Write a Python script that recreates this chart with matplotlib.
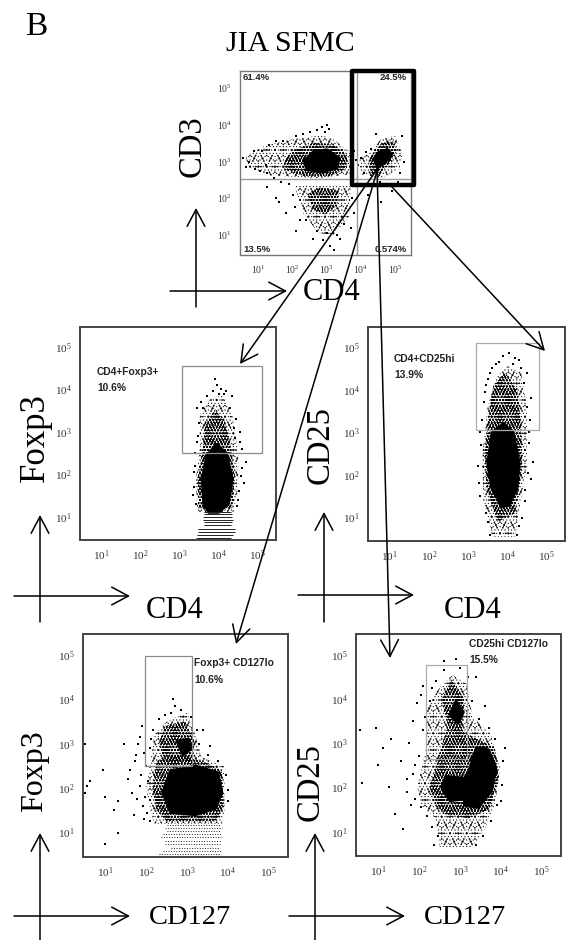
import numpy as np
import matplotlib
matplotlib.use("Agg")
import matplotlib.pyplot as plt
from matplotlib.patches import Polygon, Rectangle

plt.rcParams['font.family'] = ['Liberation Serif', 'DejaVu Serif']
plt.rcParams['mathtext.fontset'] = 'custom'
plt.rcParams['mathtext.rm'] = 'Liberation Sans'
plt.rcParams['hatch.linewidth'] = 0.35

W = 568
H = 940

# all cloud outlines are in decades (log10 of the fluorescence)
tick_decades = [1, 2, 3, 4, 5]
axis_low = 0.45
axis_high = 5.47

# top panel, CD4 / CD3
top_sparse = [
    [(0.62, 3.15), (1.16, 3.42), (1.94, 3.6), (2.85, 3.72), (3.2, 3.6), (3.69, 3.25), (3.69, 2.65), (2.72, 2.55), (1.35, 2.62), (0.68, 2.85)],
    [(3.95, 3.05), (4.25, 3.25), (4.6, 3.62), (5.0, 3.7), (5.22, 3.2), (5.12, 2.8), (4.6, 2.55), (4.0, 2.65)],
    [(2.05, 2.35), (3.7, 2.35), (3.65, 1.5), (3.2, 1.0), (2.75, 1.05), (2.3, 1.6)],
]
top_mid = [
    [(1.74, 3.01), (2.03, 3.32), (2.62, 3.51), (3.2, 3.46), (3.59, 3.19), (3.59, 2.82), (3.11, 2.6), (2.33, 2.6), (1.74, 2.78)],
    [(4.22, 2.9), (4.33, 3.2), (4.6, 3.5), (4.95, 3.55), (5.05, 3.3), (4.85, 2.95), (4.55, 2.65), (4.3, 2.65)],
    [(2.43, 2.1), (2.8, 2.3), (3.35, 2.2), (3.3, 1.8), (2.95, 1.55), (2.6, 1.7)],
]
top_core = [
    [(2.33, 3.01), (2.62, 3.28), (3.01, 3.32), (3.35, 3.1), (3.3, 2.82), (2.81, 2.71), (2.42, 2.78)],
    [(4.37, 3.07), (4.52, 3.25), (4.78, 3.33), (4.9, 3.2), (4.72, 2.98), (4.5, 2.85)],
]
top_x = [0.55, 0.7, 0.62, 0.9, 0.85, 1.1, 1.05, 1.3, 1.25, 1.5, 1.45, 1.2, 1.7, 1.65, 2.1, 2.3, 1.9, 2.5, 2.7, 3.0, 3.05, 2.95, 2.85, 2.7, 3.8, 3.78, 3.9, 3.85, 4.1, 4.0, 4.15, 4.3, 5.2, 5.25, 5.1, 5.15, 4.45, 4.55, 1.5, 1.8, 2.1, 2.6, 3.1, 3.5, 4.2, 4.6, 4.9, 2.4, 3.3, 1.25, 1.6, 2.05, 3.2, 3.75, 3.8, 3.72, 2.0, 2.2, 2.9, 3.0, 3.4]
top_y = [3.1, 3.0, 2.85, 2.8, 3.3, 3.3, 2.75, 3.45, 2.7, 3.55, 2.55, 2.9, 3.55, 2.45, 3.7, 3.75, 2.4, 3.8, 3.85, 4.0, 3.9, 3.8, 3.95, 1.1, 3.3, 2.8, 2.9, 3.05, 2.7, 3.1, 3.25, 3.35, 3.7, 3.0, 2.45, 2.7, 3.75, 2.45, 2.0, 1.6, 1.1, 0.9, 0.7, 1.3, 2.1, 1.9, 2.2, 1.4, 1.0, 2.3, 1.9, 1.75, 0.6, 2.0, 1.6, 1.2, 2.1, 1.4, 0.85, 1.05, 0.9]

# CD4 / Foxp3
foxp3_cd4_sparse = [[(3.45, 1.1), (3.42, 1.9), (3.52, 2.6), (3.52, 3.4), (3.8, 3.8), (4.1, 3.85), (4.35, 3.4), (4.5, 2.5), (4.5, 1.7), (4.38, 1.1)]]
foxp3_cd4_mid = [[(3.48, 1.2), (3.46, 1.9), (3.6, 2.6), (3.65, 3.2), (3.9, 3.5), (4.15, 3.3), (4.3, 2.7), (4.42, 2.0), (4.35, 1.2)]]
foxp3_cd4_core = [[(3.62, 1.3), (3.58, 1.9), (3.7, 2.45), (3.95, 2.7), (4.2, 2.5), (4.35, 1.9), (4.25, 1.3), (4.0, 1.1), (3.75, 1.1)]]
foxp3_cd4_levels = [1.12, 1.06, 0.99, 0.93, 0.87, 0.8, 0.72, 0.64, 0.56, 0.49]
foxp3_cd4_from = [3.62, 3.62, 3.6, 3.6, 3.62, 3.62, 3.48, 3.46, 3.44, 3.42]
foxp3_cd4_to = [4.32, 4.34, 4.34, 4.36, 4.34, 4.32, 4.42, 4.42, 4.36, 4.32]
foxp3_cd4_x = [3.9, 3.95, 4.0, 4.2, 4.35, 4.45, 4.55, 4.6, 4.7, 3.45, 3.55, 3.4, 4.65, 4.5, 3.42, 3.38, 3.36, 3.4, 3.47, 3.5, 3.6, 3.7, 3.85, 4.05, 4.15, 4.3, 4.4, 4.42, 4.55, 4.6, 4.58, 4.52, 4.48, 3.35, 3.44]
foxp3_cd4_y = [4.25, 4.1, 3.9, 3.95, 3.85, 3.3, 3.0, 2.6, 2.3, 3.55, 3.7, 2.2, 1.8, 1.4, 1.3, 1.7, 2.05, 2.5, 2.9, 3.2, 3.55, 3.85, 3.95, 4.0, 3.9, 3.55, 3.1, 2.85, 2.75, 2.15, 1.95, 1.6, 1.25, 1.5, 2.75]

# CD4 / CD25
cd25_cd4_sparse = [[(3.62, 0.55), (3.4, 1.4), (3.35, 2.4), (3.5, 3.6), (3.72, 4.3), (4.0, 4.55), (4.35, 4.4), (4.5, 3.6), (4.5, 2.2), (4.3, 1.2), (4.2, 0.55)]]
cd25_cd4_mid = [[(3.75, 0.9), (3.47, 1.7), (3.42, 2.5), (3.52, 3.4), (3.65, 4.1), (3.95, 4.4), (4.25, 4.0), (4.35, 3.2), (4.38, 2.2), (4.2, 1.1)]]
cd25_cd4_core = [[(3.85, 1.25), (3.6, 1.7), (3.5, 2.3), (3.62, 3.0), (3.9, 3.2), (4.15, 3.0), (4.3, 2.3), (4.25, 1.7), (4.05, 1.3)]]
cd25_cd4_x = [3.3, 3.25, 3.4, 4.5, 4.6, 4.55, 4.65, 4.2, 4.3, 3.9, 4.05, 3.55, 4.45, 4.6, 3.28, 3.32, 3.3, 3.36, 3.42, 3.46, 3.5, 3.55, 3.62, 3.7, 3.8, 4.15, 4.35, 4.42, 4.5, 4.58, 4.56, 4.52, 4.46, 4.38, 4.3, 4.25, 3.5, 3.45]
cd25_cd4_y = [1.5, 2.2, 3.7, 4.4, 3.8, 3.0, 2.3, 4.75, 4.7, 4.8, 4.85, 0.6, 1.4, 1.9, 1.8, 2.7, 3.0, 3.3, 3.95, 4.1, 4.25, 4.4, 4.5, 4.6, 4.65, 4.6, 4.5, 4.15, 3.6, 3.3, 2.75, 2.05, 1.65, 1.0, 0.8, 0.6, 0.9, 1.1]

# CD127 / Foxp3
foxp3_cd127_sparse = [[(2.0, 2.0), (2.1, 2.6), (2.2, 3.2), (2.5, 3.5), (3.0, 3.7), (3.2, 3.2), (3.35, 2.7), (3.9, 2.5), (3.92, 1.5), (3.85, 1.2), (2.2, 1.2), (2.1, 1.5)]]
foxp3_cd127_mid = [
    [(2.15, 2.0), (2.25, 2.6), (2.7, 2.75), (3.4, 2.6), (3.85, 2.4), (3.9, 1.6), (3.7, 1.25), (2.5, 1.25), (2.25, 1.5)],
    [(2.3, 3.0), (2.45, 3.4), (2.95, 3.5), (3.2, 3.0), (3.1, 2.6), (2.5, 2.5)],
]
foxp3_cd127_core = [
    [(2.4, 1.9), (2.6, 2.4), (3.0, 2.45), (3.2, 2.5), (3.75, 2.35), (3.85, 1.9), (3.7, 1.55), (3.2, 1.4), (2.6, 1.45)],
    [(2.75, 3.05), (3.0, 3.1), (3.12, 2.9), (2.9, 2.75)],
]
foxp3_cd127_levels = [1.17, 1.1, 1.03, 0.96, 0.89, 0.82, 0.74, 0.66, 0.58, 0.52]
foxp3_cd127_from = [2.5, 2.45, 2.5, 2.4, 2.35, 2.45, 2.45, 2.6, 2.4, 2.3]
foxp3_cd127_to = [3.8, 3.85, 3.8, 3.84, 3.82, 3.84, 3.8, 3.8, 3.84, 3.84]
foxp3_cd127_x = [0.5, 0.62, 0.95, 1.0, 1.3, 1.2, 1.6, 1.72, 1.45, 1.8, 1.55, 1.65, 1.9, 1.7, 1.3, 1.0, 0.55, 0.5, 1.95, 1.75, 1.85, 2.65, 2.7, 3.4, 3.55, 4.0, 1.88, 1.92, 1.98, 2.0, 2.04, 1.85, 1.78, 2.08, 2.12, 2.16, 2.3, 2.45, 2.6, 2.85, 3.1, 3.25, 3.3, 3.5, 3.75, 3.95, 4.0, 1.95, 2.02, 2.1]
foxp3_cd127_y = [3.0, 2.15, 2.4, 1.8, 1.7, 1.5, 2.4, 2.6, 3.0, 3.0, 2.2, 1.9, 3.4, 1.4, 1.0, 0.75, 2.05, 1.9, 2.8, 2.75, 3.15, 4.0, 3.85, 3.3, 2.95, 1.7, 2.3, 1.6, 1.8, 2.5, 2.15, 2.05, 1.75, 2.9, 3.1, 3.3, 3.55, 3.65, 3.7, 3.75, 3.6, 3.3, 3.0, 2.75, 2.6, 2.3, 1.95, 1.3, 1.45, 1.25]

# CD127 / CD25
cd25_cd127_sparse = [[(1.95, 2.0), (2.2, 3.0), (2.15, 3.7), (2.45, 4.2), (2.8, 4.55), (3.15, 4.35), (3.3, 3.6), (3.75, 3.2), (3.98, 2.4), (3.85, 1.6), (3.6, 1.05), (3.3, 0.65), (2.5, 0.65), (2.4, 1.3), (2.05, 1.6)]]
cd25_cd127_mid = [
    [(2.25, 2.0), (2.5, 2.8), (2.7, 3.4), (2.55, 4.0), (2.8, 4.45), (3.1, 4.0), (3.05, 3.3), (3.3, 3.15), (3.85, 2.9), (3.95, 2.2), (3.7, 1.5), (3.2, 1.3), (2.6, 1.4), (2.4, 1.6)],
]
cd25_cd127_core = [
    [(3.1, 1.6), (3.15, 2.2), (3.4, 2.9), (3.7, 2.85), (3.88, 2.4), (3.75, 1.9), (3.45, 1.55)],
    [(2.55, 2.0), (2.65, 2.25), (3.2, 2.2), (3.2, 1.75), (2.75, 1.7)],
    [(2.75, 3.65), (2.9, 3.95), (3.08, 3.7), (2.95, 3.45)],
]
cd25_cd127_x = [0.6, 0.95, 1.1, 1.25, 1.4, 1.6, 1.7, 1.0, 1.3, 1.55, 1.85, 1.95, 2.05, 2.1, 1.75, 0.55, 2.6, 2.9, 3.4, 3.6, 4.1, 4.0, 1.9, 1.7, 1.8, 1.85, 1.9, 2.0, 2.1, 2.15, 2.05, 2.25, 2.3, 2.4, 2.6, 3.0, 3.2, 3.3, 3.45, 3.7, 3.85, 4.05, 4.02, 3.9, 3.75, 3.55, 3.4, 2.45, 2.3, 2.2, 2.35]
cd25_cd127_y = [2.1, 3.35, 2.9, 2.0, 1.4, 1.05, 1.9, 2.5, 3.1, 2.6, 3.5, 3.9, 4.1, 4.3, 3.0, 3.3, 4.85, 4.9, 4.5, 3.85, 2.9, 1.7, 2.5, 2.2, 1.6, 2.3, 1.75, 2.7, 3.3, 3.6, 1.55, 3.95, 4.25, 4.4, 4.65, 4.7, 4.5, 3.95, 3.55, 3.35, 3.1, 2.6, 2.05, 1.6, 1.25, 0.9, 0.7, 0.9, 1.1, 1.35, 0.7]

# percent labels
top_percent = ["61.4%", "24.5%", "13.5%", "0.574%"]
gate_names = ["CD4+Foxp3+", "CD4+CD25hi", "Foxp3+ CD127lo", "CD25hi CD127lo"]
gate_percent = ["10.6%", "13.9%", "10.6%", "15.5%"]

# gate edges, in decades
top_quad_x = 3.88
top_quad_y = 2.52
gates = [(3.05, 5.1, 2.51, 4.56), (3.2, 4.82, 3.05, 5.09), (1.97, 3.13, 2.5, 4.98), (2.17, 3.16, 2.65, 4.78)]


def px_axes(left, top, right, bottom):
    return fig.add_axes([left / W, 1 - bottom / H, (right - left) / W, (bottom - top) / H])


def cloud(ax, polys, hatches=None):
    for p in polys:
        xy = np.power(10.0, np.array(p))
        if hatches is None:
            ax.add_patch(Polygon(xy, closed=True, facecolor='black', edgecolor='black', lw=2.0, joinstyle='round'))
            continue
        for h in hatches:
            ax.add_patch(Polygon(xy, closed=True, facecolor='none', edgecolor='black', lw=0, hatch=h))


def flow_panel(box, sparse, mid, core, xs, ys, edge, lw, size, levels=None, start=None, stop=None, ls='-'):
    ax = px_axes(*box)
    ax.set_xscale('log')
    ax.set_yscale('log')
    ax.set_xlim(10 ** axis_low, 10 ** axis_high)
    ax.set_ylim(10 ** axis_low, 10 ** axis_high)
    ticks = [10.0 ** t for t in tick_decades]
    labels = ['$\\mathregular{10^{%d}}$' % t for t in tick_decades]
    ax.set_xticks(ticks, labels)
    ax.set_yticks(ticks, labels)
    ax.minorticks_off()
    ax.tick_params(length=0, labelsize=size, labelcolor='#333333', pad=6)
    for s in ax.spines.values():
        s.set_color(edge)
        s.set_linewidth(lw)
    cloud(ax, sparse, ['..', '...', '.....'])
    cloud(ax, mid, ['ooooo', 'oooooo'])
    cloud(ax, core)
    ax.scatter(np.power(10.0, xs), np.power(10.0, ys), s=0.9, c='black', marker='s', lw=0)
    if levels is not None:
        ax.hlines(np.power(10.0, levels), np.power(10.0, start), np.power(10.0, stop), color='#222222', lw=0.7, ls=ls)
    return ax


def gate_box(ax, g, color='#8a8a8a'):
    x0, x1, y0, y1 = [10.0 ** v for v in g]
    ax.add_patch(Rectangle((x0, y0), x1 - x0, y1 - y0, fill=False, edgecolor=color, lw=0.9, zorder=5))


fig = plt.figure(figsize=(W / 100, H / 100), dpi=100, facecolor='white')

ax1 = flow_panel((240, 71, 411, 255), top_sparse, top_mid, top_core, top_x, top_y, '#777777', 1.0, 7)
ax1.axhline(10 ** top_quad_y, color='#999999', lw=1.0)
ax1.axvline(10 ** top_quad_x, color='#999999', lw=1.0)

ax2 = flow_panel((80, 327, 276, 540), foxp3_cd4_sparse, foxp3_cd4_mid, foxp3_cd4_core, foxp3_cd4_x, foxp3_cd4_y, '#444444', 1.4, 8,
                 foxp3_cd4_levels, foxp3_cd4_from, foxp3_cd4_to)
gate_box(ax2, gates[0])
ax3 = flow_panel((368, 327, 565, 541), cd25_cd4_sparse, cd25_cd4_mid, cd25_cd4_core, cd25_cd4_x, cd25_cd4_y, '#444444', 1.4, 8)
gate_box(ax3, gates[1], '#aaaaaa')
ax4 = flow_panel((83, 634, 288, 857), foxp3_cd127_sparse, foxp3_cd127_mid, foxp3_cd127_core, foxp3_cd127_x, foxp3_cd127_y, '#444444', 1.4, 8,
                 foxp3_cd127_levels, foxp3_cd127_from, foxp3_cd127_to, ':')
gate_box(ax4, gates[2])
ax5 = flow_panel((356, 634, 561, 856), cd25_cd127_sparse, cd25_cd127_mid, cd25_cd127_core, cd25_cd127_x, cd25_cd127_y, '#444444', 1.4, 8)
gate_box(ax5, gates[3], '#aaaaaa')

# overlay in picture pixels for the hand drawn arrows and captions
over = fig.add_axes([0, 0, 1, 1], zorder=10)
over.set_xlim(0, W)
over.set_ylim(H, 0)
over.axis('off')
over.patch.set_alpha(0)

over.add_patch(Rectangle((352, 71), 62, 114, fill=False, edgecolor='black', lw=3.2, joinstyle='round'))


def arrow(x0, y0, x1, y1):
    over.annotate('', xy=(x1, y1), xytext=(x0, y0),
                  arrowprops=dict(arrowstyle='->,head_length=0.75,head_width=0.4', color='black', lw=1.1,
                                  mutation_scale=16, shrinkA=0, shrinkB=0))


# axis crosses
arrow(196, 307, 196, 208)
arrow(170, 291, 287, 291)
arrow(40, 622, 40, 515)
arrow(14, 596, 130, 596)
arrow(324, 622, 324, 512)
arrow(298, 595, 414, 595)
arrow(40, 940, 40, 833)
arrow(14, 916, 130, 916)
arrow(315, 940, 315, 833)
arrow(289, 916, 405, 916)

# gate-to-panel arrows
arrow(378, 168, 240, 364)
arrow(378, 168, 236, 644)
arrow(377, 168, 390, 658)
arrow(392, 187, 545, 351)


def serif(x, y, s, size, rot=0):
    over.text(x, y, s, fontsize=size, rotation=rot, ha='center', va='center', color='black')


serif(36, 27, "B", 24)
serif(290, 44, "JIA SFMC", 21.5)
serif(192, 146, "CD3", 23.5, 90)
serif(332, 292, "CD4", 22)
serif(35, 438, "Foxp3", 25, 90)
serif(175, 610, "CD4", 22)
serif(320, 445, "CD25", 23.5, 90)
serif(473, 610, "CD4", 22)
serif(35, 771, "Foxp3", 23, 90)
serif(190, 918, "CD127", 20.5)
serif(310, 782, "CD25", 23.5, 90)
serif(465, 918, "CD127", 20.5)


def sans(x, y, s, size=7.4, ha='left'):
    over.text(x, y, s, fontsize=size, fontweight='bold', family='Liberation Sans', ha=ha, va='center', color='#222222')


sans(243, 77, top_percent[0], 6.8)
sans(407, 77, top_percent[1], 6.8, 'right')
sans(243, 249, top_percent[2], 6.8)
sans(407, 249, top_percent[3], 6.8, 'right')
sans(97, 372, gate_names[0])
sans(97, 388, gate_percent[0])
sans(394, 359, gate_names[1])
sans(394, 375, gate_percent[1])
sans(194, 663, gate_names[2])
sans(194, 680, gate_percent[2])
sans(469, 644, gate_names[3])
sans(469, 660, gate_percent[3])

fig.savefig("out.png", dpi=100)
